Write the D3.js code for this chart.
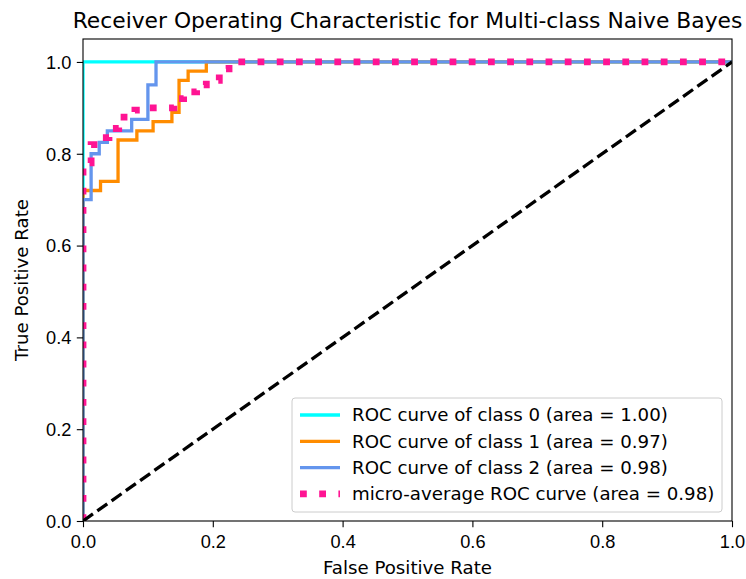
<!DOCTYPE html>
<html>
<head>
<meta charset="utf-8">
<script src="https://cdn.jsdelivr.net/npm/d3@7"></script>
<style>
  body { margin: 0; background: #fff; }
  svg { font-family: "DejaVu Sans", sans-serif; }
  .axis text { font-size: 18.2px; fill: #000; }
  .axis line { stroke: #000; stroke-width: 1.1; }
</style>
</head>
<body>
<svg id="chart"></svg>
<script>
// ROC curve corner points
const class0Fpr = [0, 0, 1];
const class0Tpr = [0, 1, 1];

const class1Fpr = [0, 0, 0.027, 0.027, 0.054, 0.054, 0.083, 0.083, 0.108, 0.108, 0.137, 0.137, 0.148, 0.148, 0.162, 0.162, 0.19, 0.19, 1];
const class1Tpr = [0, 0.72, 0.72, 0.74, 0.74, 0.83, 0.83, 0.85, 0.85, 0.87, 0.87, 0.89, 0.89, 0.96, 0.96, 0.98, 0.98, 1, 1];

const class2Fpr = [0, 0, 0.0125, 0.0125, 0.025, 0.025, 0.0375, 0.0375, 0.075, 0.075, 0.1, 0.1, 0.1125, 0.1125, 1];
const class2Tpr = [0, 0.7, 0.7, 0.8, 0.8, 0.825, 0.825, 0.85, 0.85, 0.875, 0.875, 0.95, 0.95, 1, 1];

const microFpr = [0, 0, 0.0125, 0.0125, 0.025, 0.025, 0.04, 0.04, 0.055, 0.055, 0.08, 0.08, 0.1, 0.1, 0.14, 0.14, 0.155, 0.155, 0.175, 0.175, 0.19, 0.19, 0.21, 0.21, 0.225, 0.225, 1];
const microTpr = [0, 0.78, 0.78, 0.82, 0.82, 0.835, 0.835, 0.855, 0.855, 0.88, 0.88, 0.895, 0.895, 0.9, 0.9, 0.92, 0.92, 0.935, 0.935, 0.95, 0.95, 0.96, 0.96, 0.985, 0.985, 1, 1];

const diagonal = [0, 1];

const seriesLabels = [
    "ROC curve of class 0 (area = 1.00)",
    "ROC curve of class 1 (area = 0.97)",
    "ROC curve of class 2 (area = 0.98)",
    "micro-average ROC curve (area = 0.98)"
];
const xTicks = [0, 0.2, 0.4, 0.6, 0.8, 1.0];
const yTicks = [0, 0.2, 0.4, 0.6, 0.8, 1.0];

const containerWidth = 746, containerHeight = 579;
const margin = {top: 39, right: 14, bottom: 58, left: 83};
const width = containerWidth - margin.left - margin.right;
const height = containerHeight - margin.top - margin.bottom;

const svg = d3.select('#chart')
    .attr('width', containerWidth)
    .attr('height', containerHeight);

const chart = svg.append('g')
    .attr('transform', `translate(${margin.left},${margin.top})`);

const xScale = d3.scaleLinear().domain([0, 1]).range([0, width]);
const yScale = d3.scaleLinear().domain([0, 1.05]).range([height, 0]);

// clip lines to the axes box like matplotlib does
svg.append('defs').append('clipPath').attr('id', 'plot-clip')
    .append('rect').attr('width', width).attr('height', height);

const line = d3.line()
    .x(d => xScale(d[0]))
    .y(d => yScale(d[1]));

const zip = (a, b) => a.map((v, i) => [v, b[i]]);

const series = [
    {fpr: class0Fpr, tpr: class0Tpr, color: '#00ffff', width: 3.3, dash: null},
    {fpr: class1Fpr, tpr: class1Tpr, color: '#ff8c00', width: 3.3, dash: null},
    {fpr: class2Fpr, tpr: class2Tpr, color: '#6495ed', width: 3.3, dash: null},
    {fpr: microFpr, tpr: microTpr, color: '#ff1493', width: 6.8, dash: '6.8,12.4'}
];

const plot = chart.append('g').attr('clip-path', 'url(#plot-clip)');

series.forEach(s => {
    plot.append('path')
        .datum(zip(s.fpr, s.tpr))
        .attr('fill', 'none')
        .attr('stroke', s.color)
        .attr('stroke-width', s.width)
        .attr('stroke-dasharray', s.dash)
        .attr('d', line);
});

// chance line
plot.append('path')
    .datum(zip(diagonal, diagonal))
    .attr('fill', 'none')
    .attr('stroke', '#000')
    .attr('stroke-width', 3.3)
    .attr('stroke-dasharray', '12.2,5.3')
    .attr('d', line);

// axes
const xAxisG = chart.append('g')
    .attr('class', 'axis x-axis')
    .attr('transform', `translate(0,${height})`)
    .call(d3.axisBottom(xScale).tickValues(xTicks).tickFormat(d3.format('.1f')).tickSize(6.2).tickPadding(5.5));
const yAxisG = chart.append('g')
    .attr('class', 'axis y-axis')
    .call(d3.axisLeft(yScale).tickValues(yTicks).tickFormat(d3.format('.1f')).tickSize(6.2).tickPadding(5.5));
xAxisG.select('.domain').remove();
yAxisG.select('.domain').remove();
xAxisG.selectAll('text').attr('dy', '0.85em');
yAxisG.selectAll('text').attr('dy', '0.35em');

// frame
chart.append('rect')
    .attr('width', width)
    .attr('height', height)
    .attr('fill', 'none')
    .attr('stroke', '#000')
    .attr('stroke-width', 1.1);

// title
svg.append('text')
    .attr('x', margin.left + width / 2)
    .attr('y', 28)
    .attr('text-anchor', 'middle')
    .style('font-size', '21.8px')
    .text('Receiver Operating Characteristic for Multi-class Naive Bayes');

// axis labels
svg.append('text')
    .attr('x', margin.left + width / 2)
    .attr('y', containerHeight - 5)
    .attr('text-anchor', 'middle')
    .style('font-size', '18.2px')
    .text('False Positive Rate');

svg.append('text')
    .attr('transform', 'rotate(-90)')
    .attr('x', -(margin.top + height / 2))
    .attr('y', 28)
    .attr('text-anchor', 'middle')
    .style('font-size', '18.2px')
    .text('True Positive Rate');

// legend, lower right
const legendW = 430, legendH = 114;
const legend = chart.append('g')
    .attr('transform', `translate(${width - 10 - legendW},${height - 9 - legendH})`);
legend.append('rect')
    .attr('width', legendW)
    .attr('height', legendH)
    .attr('rx', 3)
    .attr('fill', '#fff')
    .attr('fill-opacity', 0.8)
    .attr('stroke', '#cccccc');

const rowH = 26.3;
series.forEach((s, i) => {
    const row = legend.append('g')
        .attr('transform', `translate(0,${17 + i * rowH})`);
    row.append('line')
        .attr('x1', 8).attr('x2', 48)
        .attr('stroke', s.color)
        .attr('stroke-width', s.width)
        .attr('stroke-dasharray', s.dash);
    row.append('text')
        .attr('x', 60)
        .attr('dy', '0.35em')
        .style('font-size', '18.2px')
        .text(seriesLabels[i]);
});
</script>
</body>
</html>
